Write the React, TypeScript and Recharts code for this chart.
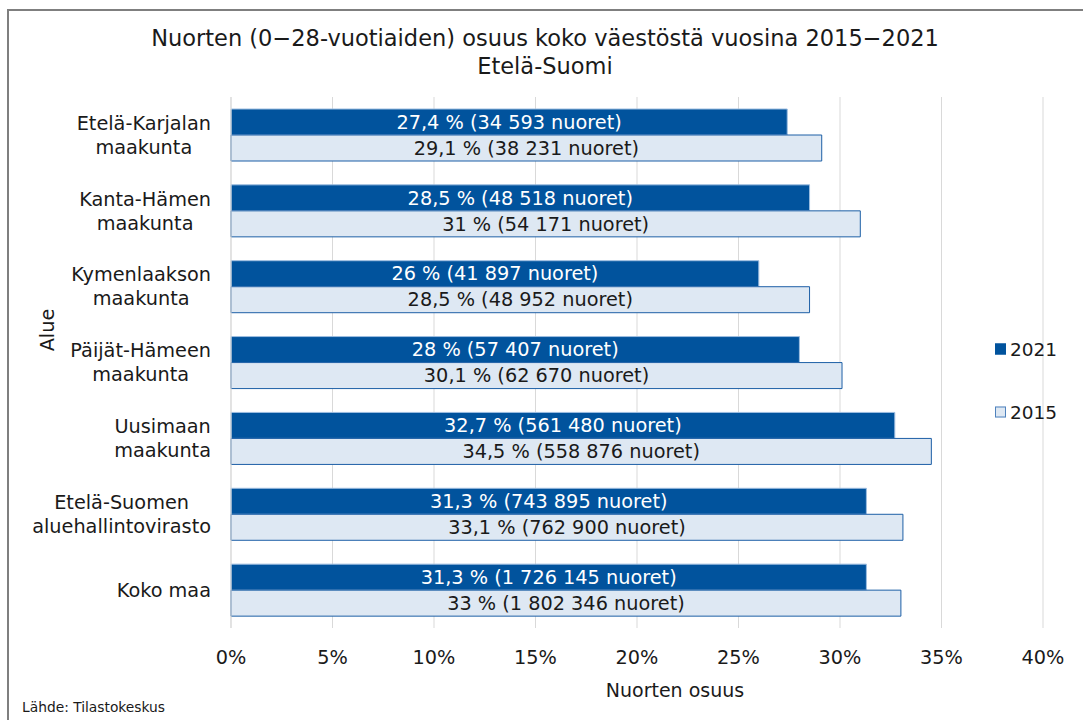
import React from 'react';
import { BarChart, Bar, XAxis, YAxis, CartesianGrid, LabelList } from 'recharts';

const regions = [
    'Etelä-Karjalan maakunta',
    'Kanta-Hämen maakunta',
    'Kymenlaakson maakunta',
    'Päijät-Hämeen maakunta',
    'Uusimaan maakunta',
    'Etelä-Suomen aluehallintovirasto',
    'Koko maa',
];

const regionLines = [
    ['Etelä-Karjalan', 'maakunta'],
    ['Kanta-Hämen', 'maakunta'],
    ['Kymenlaakson', 'maakunta'],
    ['Päijät-Hämeen', 'maakunta'],
    ['Uusimaan', 'maakunta'],
    ['Etelä-Suomen', 'aluehallintovirasto'],
    ['Koko maa'],
];

const share2021 = [27.4, 28.5, 26, 28, 32.7, 31.3, 31.3];
const share2015 = [29.1, 31, 28.5, 30.1, 34.5, 33.1, 33];

const youth2021 = ['34 593', '48 518', '41 897', '57 407', '561 480', '743 895', '1 726 145'];
const youth2015 = ['38 231', '54 171', '48 952', '62 670', '558 876', '762 900', '1 802 346'];

const xTicks = [0, 5, 10, 15, 20, 25, 30, 35, 40];

const FONT = '"DejaVu Sans", Verdana, sans-serif';
const DARK = '#01539d';
const LIGHT = '#dee8f3';
const TEXT = '#1a1a1a';
const FS = 19.3;

const fmt = (v: number) => String(v).replace('.', ',');

const data = regions.map((name, i) => ({
    name,
    y2021: share2021[i],
    y2015: share2015[i],
    l2021: `${fmt(share2021[i])} % (${youth2021[i]} nuoret)`,
    l2015: `${fmt(share2015[i])} % (${youth2015[i]} nuoret)`,
}));

let ctx: CanvasRenderingContext2D | null = null;
const measure = (text: string) => {
    if (!ctx) {
        ctx = document.createElement('canvas').getContext('2d');
        if (ctx) ctx.font = `${FS}px ${FONT}`;
    }
    return ctx ? ctx.measureText(text).width : text.length * 11;
};

const RegionTick = (props: any) => {
    const { y, payload } = props;
    const idx = regions.indexOf(payload.value);
    const lines = regionLines[idx] || [payload.value];
    const widest = Math.max(...lines.map(measure));
    const cx = 211 - widest / 2;
    const start = y - ((lines.length - 1) * 24) / 2;
    return (
        <text x={cx} y={start} textAnchor="middle" fontSize={FS} fontFamily={FONT} fill={TEXT}>
            {lines.map((line: string, i: number) => (
                <tspan key={i} x={cx} y={start + i * 24} dy="0.35em">{line}</tspan>
            ))}
        </text>
    );
};

const PercentTick = (props: any) => {
    const { x, y, payload } = props;
    return (
        <text x={x} y={y + 21} textAnchor="middle" fontSize={FS} fontFamily={FONT} fill={TEXT} dy="0.35em">
            {`${payload.value}%`}
        </text>
    );
};

const makeLabel = (color: string) => (props: any) => {
    const { x, y, width, height, value } = props;
    return (
        <text x={x + width / 2} y={y + height / 2} dy="0.35em" textAnchor="middle" fontSize={FS} fontFamily={FONT} fill={color}>
            {value}
        </text>
    );
};

export default function App() {
    return (
        <div style={{ position: 'absolute', left: 0, top: 0, width: 1083, height: 720, overflow: 'hidden', background: '#fff', fontFamily: FONT }}>
            <div style={{ position: 'absolute', left: 7, top: 9, width: 1200, height: 800, borderLeft: '2px solid #7f7f7f', borderTop: '2px solid #7f7f7f' }} />
            <BarChart
                width={1083}
                height={720}
                data={data}
                layout="vertical"
                margin={{ top: 97, right: 40, bottom: 0, left: 0 }}
                barSize={26}
                barGap={0}
                style={{ position: 'absolute', left: 0, top: 0 }}
            >
                <CartesianGrid horizontal={false} stroke="#d9d9d9" />
                <XAxis
                    type="number"
                    domain={[0, 40]}
                    ticks={xTicks}
                    axisLine={false}
                    tickLine={false}
                    tick={<PercentTick />}
                    height={92}
                    interval={0}
                />
                <YAxis
                    type="category"
                    dataKey="name"
                    width={231}
                    axisLine={{ stroke: '#d9d9d9' }}
                    tickLine={false}
                    tick={<RegionTick />}
                    interval={0}
                />
                <Bar dataKey="y2021" fill={DARK} stroke="#9dbde0" strokeWidth={1} isAnimationActive={false}>
                    <LabelList dataKey="l2021" content={makeLabel('#ffffff')} />
                </Bar>
                <Bar dataKey="y2015" fill={LIGHT} stroke="#1d5fa6" strokeWidth={1} isAnimationActive={false}>
                    <LabelList dataKey="l2015" content={makeLabel(TEXT)} />
                </Bar>
            </BarChart>
            <div style={{ position: 'absolute', left: 0, width: 1090, top: 24, textAlign: 'center', fontSize: 22.5, lineHeight: '28px', color: TEXT }}>
                <div>Nuorten (0−28-vuotiaiden) osuus koko väestöstä vuosina 2015−2021</div>
                <div>Etelä-Suomi</div>
            </div>
            <div style={{ position: 'absolute', left: 47, top: 330, transform: 'translate(-50%, -50%) rotate(-90deg)', fontSize: FS, color: TEXT, whiteSpace: 'nowrap' }}>
                Alue
            </div>
            <div style={{ position: 'absolute', left: 675, top: 690, transform: 'translate(-50%, -50%)', fontSize: 19, color: TEXT, whiteSpace: 'nowrap' }}>
                Nuorten osuus
            </div>
            <div style={{ position: 'absolute', left: 22, top: 707, transform: 'translateY(-50%)', fontSize: 13.8, color: TEXT, whiteSpace: 'nowrap' }}>
                Lähde: Tilastokeskus
            </div>
            {[{ label: '2021', fill: DARK, stroke: DARK, y: 349 }, { label: '2015', fill: LIGHT, stroke: '#4f82bd', y: 412 }].map(item => (
                <div key={item.label} style={{ position: 'absolute', left: 995, top: item.y, transform: 'translateY(-50%)', display: 'flex', alignItems: 'center', fontSize: 18.5, color: TEXT }}>
                    <span style={{ display: 'inline-block', width: 9, height: 9, background: item.fill, border: `1px solid ${item.stroke}`, marginRight: 4 }} />
                    {item.label}
                </div>
            ))}
        </div>
    );
}
